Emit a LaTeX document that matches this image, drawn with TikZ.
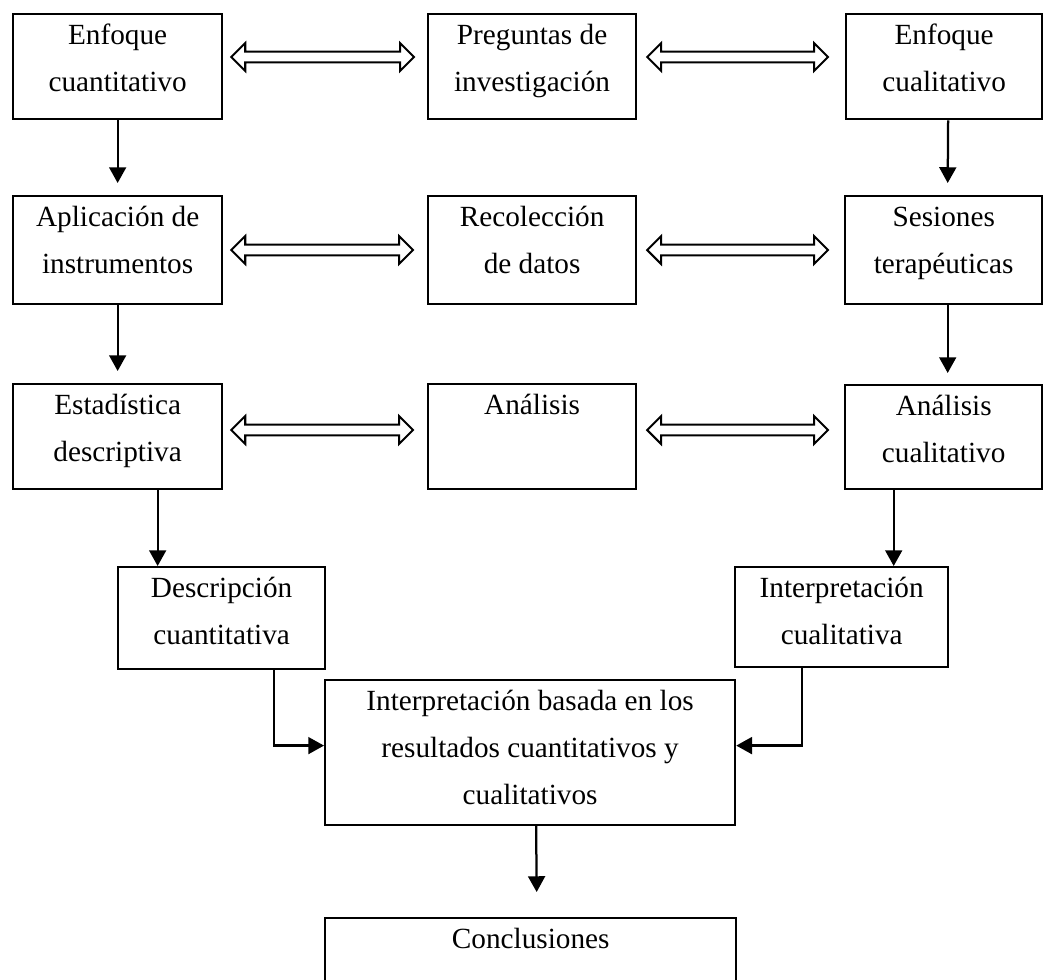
\documentclass[tikz,border=0pt]{standalone}
\usepackage{fontspec}
\setmainfont{Liberation Serif}
\usetikzlibrary{arrows.meta,calc}
\newcommand{\stagetext}[3]{\parbox[c][#2][t]{#1}{\centering\rule{0pt}{13.3pt}#3}}
% hollow double arrow between two points
\newcommand{\twoway}[2]{%
  \draw[twowayline] let \p1=(#1), \p2=(#2) in
    (\x1,\y1) -- (\x1+6.2pt,\y1+6.2pt) -- (\x1+6.2pt,\y1+2.4pt)
    -- (\x2-6.2pt,\y2+2.4pt) -- (\x2-6.2pt,\y2+6.2pt) -- (\x2,\y2)
    -- (\x2-6.2pt,\y2-6.2pt) -- (\x2-6.2pt,\y2-2.4pt)
    -- (\x1+6.2pt,\y1-2.4pt) -- (\x1+6.2pt,\y1-6.2pt) -- cycle;}
\tikzset{
stage/.style={
  draw,
  line width=1pt,
  inner sep=0pt,
  anchor=north west,
  font=\fontsize{13pt}{21pt}\selectfont
},
flow/.style={line width=1pt, -{Triangle[length=7pt,width=7.5pt]}},
twowayline/.style={line width=0.9pt, line join=miter},
}

\begin{document}
\begin{tikzpicture}[x=0.4444pt, y=-0.4444pt]
\path[use as bounding box, clip] (0,0) rectangle (1043,979);
% the boxes
\node[stage] (cuant) at (12,13) {\stagetext{92.9pt}{46.7pt}{Enfoque\\cuantitativo}};
\node[stage] (preg) at (427,13) {\stagetext{92.4pt}{46.7pt}{Preguntas de\\investigación}};
\node[stage] (cual) at (845,13) {\stagetext{87.1pt}{46.7pt}{Enfoque\\cualitativo}};
\node[stage] (apl) at (12,195) {\stagetext{92.9pt}{48pt}{Aplicación de\\instrumentos}};
\node[stage] (rec) at (427,195) {\stagetext{92.4pt}{48pt}{Recolección\\de datos}};
\node[stage] (ses) at (844,195) {\stagetext{87.6pt}{48pt}{Sesiones\\terapéuticas}};
\node[stage] (est) at (12,383) {\stagetext{92.9pt}{46.7pt}{Estadística\\descriptiva}};
\node[stage] (ana) at (427,383) {\stagetext{92.4pt}{46.7pt}{Análisis}};
\node[stage] (anacual) at (844,384) {\stagetext{87.6pt}{46.2pt}{Análisis\\cualitativo}};
\node[stage] (desc) at (117,566) {\stagetext{92pt}{45.3pt}{Descripción\\cuantitativa}};
\node[stage] (intcual) at (734,566) {\stagetext{94.7pt}{44.4pt}{Interpretación\\cualitativa}};
\node[stage] (interp) at (324,679) {\stagetext{182.2pt}{64.4pt}{Interpretación basada en los\\resultados cuantitativos y\\cualitativos}};
\node[stage] (concl) at (324,917) {\stagetext{182.7pt}{46.7pt}{Conclusiones}};
% the double arrows
\twoway{[shift={(8,44)}]cuant.north east}{[shift={(-13,44)}]preg.north west}
\twoway{[shift={(10,44)}]preg.north east}{[shift={(-17,44)}]cual.north west}
\twoway{[shift={(8,55)}]apl.north east}{[shift={(-14,55)}]rec.north west}
\twoway{[shift={(10,55)}]rec.north east}{[shift={(-16,55)}]ses.north west}
\twoway{[shift={(8,47)}]est.north east}{[shift={(-14,47)}]ana.north west}
\twoway{[shift={(10,47)}]ana.north east}{[shift={(-16,46)}]anacual.north west}
% the arrows
\draw[flow] (cuant.south) -- ([shift={(0,-12)}]apl.north);
\draw[flow] ([shift={(4,0)}]cual.south) -- ([shift={(4,-12)}]ses.north);
\draw[flow] (apl.south) -- ([shift={(0,-12)}]est.north);
\draw[flow] ([shift={(4,0)}]ses.south) -- ([shift={(4,-11)}]anacual.north);
\draw[flow] ([shift={(40,0)}]est.south) -- ([shift={(40,0)}]est.south |- desc.north);
\draw[flow] ([shift={(-50,0)}]anacual.south) -- ([shift={(-50,0)}]anacual.south |- intcual.north);
\draw[flow] ([shift={(52,0)}]desc.south) |- ([shift={(0,-7)}]interp.west);
\draw[flow] ([shift={(-40,0)}]intcual.south) |- ([shift={(0,-7)}]interp.east);
\draw[flow] ([shift={(6,0)}]interp.south) -- ([shift={(6,-25)}]concl.north);
\end{tikzpicture}
\end{document}
